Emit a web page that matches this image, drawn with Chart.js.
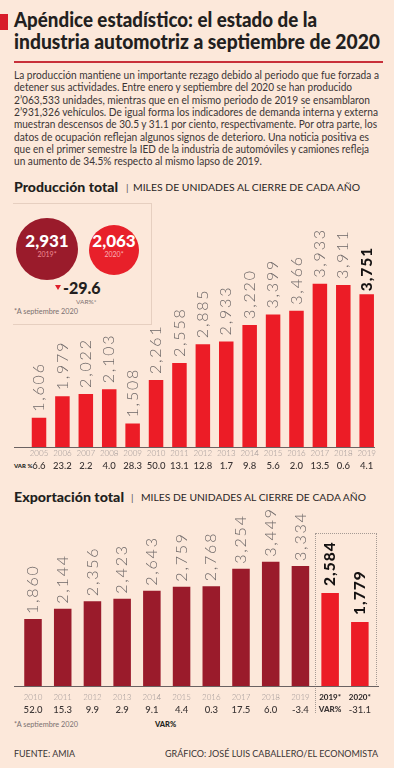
<!DOCTYPE html>
<html lang="es">
<head>
<meta charset="utf-8">
<script src="https://cdn.jsdelivr.net/npm/chart.js@4.4.1/dist/chart.umd.min.js"></script>
<style>
  html,body{margin:0;padding:0;}
  body{width:394px;height:768px;background:#fce8da;position:relative;overflow:hidden;font-family:Lato,"Open Sans",sans-serif;color:#2a2626;}
  .abs{position:absolute;}
  .fit{display:inline-block;white-space:nowrap;transform-origin:0 50%;}
  #title{left:14px;top:8px;font-weight:900;font-size:20px;line-height:22px;color:#231f20;}
  #title div{height:22px;}
  #para{left:14px;top:69px;font-size:10.6px;line-height:12.35px;color:#3b3535;}
  #para div{height:12.35px;}
  .sect{font-size:10px;color:#2a2626;}
  .sect b{font-weight:900;font-size:13.5px;color:#231f20;}
  .small{font-size:7.3px;color:#7a7070;}
  .circle{border-radius:50%;text-align:center;color:#fff;}
  .foot{font-size:9.6px;color:#3a3434;}
</style>
</head>
<body>
<div class="abs" style="left:0;top:14px;width:8px;height:16px;background:#d81d2a"></div>
<div id="title" class="abs">
  <div><span class="fit" data-w="303">Apéndice estadístico: el estado de la</span></div>
  <div><span class="fit" data-w="366">industria automotriz a septiembre de 2020</span></div>
</div>
<div class="abs" style="left:14px;top:61px;width:369px;height:1.5px;background:#c8303a"></div>
<div id="para" class="abs">
  <div><span class="fit" data-w="365">La producción mantiene un importante rezago debido al periodo que fue forzada a</span></div>
  <div><span class="fit" data-w="338">detener sus actividades. Entre enero y septiembre del 2020 se han producido</span></div>
  <div><span class="fit" data-w="356">2’063,533 unidades, mientras que en el mismo periodo de 2019 se ensamblaron</span></div>
  <div><span class="fit" data-w="364">2’931,326 vehículos. De igual forma los indicadores de demanda interna y externa</span></div>
  <div><span class="fit" data-w="363">muestran descensos de 30.5 y 31.1 por ciento, respectivamente. Por otra parte, los</span></div>
  <div><span class="fit" data-w="355">datos de ocupación reflejan algunos signos de deterioro. Una noticia positiva es</span></div>
  <div><span class="fit" data-w="355">que en el primer semestre la IED de la industria de automóviles y camiones refleja</span></div>
  <div><span class="fit" data-w="248">un aumento de 34.5% respecto al mismo lapso de 2019.</span></div>
</div>

<!-- Producción header -->
<div class="abs sect" style="left:14px;top:178px;height:18px;line-height:18px;">
  <b class="fit" data-w="104">Producción total</b>
</div>
<div class="abs sect" style="left:126px;top:178px;height:18px;line-height:18px;color:#555">|</div>
<div class="abs sect" style="left:133px;top:178px;height:18px;line-height:18px;"><span class="fit" data-w="227">MILES DE UNIDADES AL CIERRE DE CADA AÑO</span></div>

<!-- summary box -->
<div class="abs" style="left:13px;top:203px;width:138px;height:120px;border-top:1px solid #e6cfc0;border-right:1px solid #e6cfc0;border-bottom:1px solid #e6cfc0;"></div>
<div class="abs circle" style="left:16px;top:218px;width:62px;height:62px;background:#9a1b2b;"></div>
<div class="abs circle" style="left:89px;top:225px;width:50px;height:50px;background:#e8202a;"></div>
<div class="abs" style="left:16px;top:231px;width:62px;text-align:center;color:#fff;font-weight:900;font-size:17px;line-height:19px;">2,931</div>
<div class="abs" style="left:16px;top:250px;width:62px;text-align:center;color:#f08d93;font-size:7px;line-height:9px;">2019*</div>
<div class="abs" style="left:89px;top:231px;width:50px;text-align:center;color:#fff;font-weight:900;font-size:17px;line-height:19px;">2,063</div>
<div class="abs" style="left:89px;top:250px;width:50px;text-align:center;color:#f9b2b5;font-size:7px;line-height:9px;">2020*</div>
<div class="abs" style="left:55px;top:285px;width:0;height:0;border-left:3.5px solid transparent;border-right:3.5px solid transparent;border-top:5px solid #e01f2b;"></div>
<div class="abs" style="left:63px;top:279px;font-weight:900;font-size:16px;line-height:18px;color:#231f20;">-29.6</div>
<div class="abs small" style="left:76px;top:297px;font-size:6.5px;line-height:9px;">VAR%*</div>
<div class="abs small" style="left:14px;top:307px;line-height:9px;">*A septiembre 2020</div>

<!-- Production chart -->
<div class="abs" style="left:14px;top:446.5px;width:361px;height:1px;background:#6a6262;z-index:2"></div>
<div class="abs" style="left:14px;top:461px;font-size:6px;font-weight:900;line-height:9px;color:#231f20;">VAR %</div>
<canvas id="c1" class="abs" width="394" height="275" style="left:0;top:200px;width:394px;height:275px;"></canvas>

<!-- Export header -->
<div class="abs sect" style="left:14px;top:488px;height:18px;line-height:18px;">
  <b class="fit" data-w="110">Exportación total</b>
</div>
<div class="abs sect" style="left:131px;top:488px;height:18px;line-height:18px;color:#555">|</div>
<div class="abs sect" style="left:141px;top:488px;height:18px;line-height:18px;"><span class="fit" data-w="225">MILES DE UNIDADES AL CIERRE DE CADA AÑO</span></div>

<!-- dotted box for 2019*/2020* -->
<div class="abs" style="left:315px;top:533px;width:60px;height:153px;border-top:1px dotted #a59a94;border-right:1px dotted #a59a94;border-left:1px dotted #a59a94;"></div>
<div class="abs" style="left:315px;top:686px;width:0;height:27px;border-left:1px dotted #a59a94;"></div>
<div class="abs" style="left:14px;top:685.5px;width:365px;height:1px;background:#6a6262;z-index:2"></div>
<canvas id="c2" class="abs" width="394" height="218" style="left:0;top:500px;width:394px;height:218px;"></canvas>
<div class="abs small" style="left:14px;top:720px;line-height:9px;">*A septiembre 2020</div>
<div class="abs" style="left:155px;top:720px;font-size:7.5px;font-weight:900;line-height:9px;color:#231f20;">VAR%</div>

<div class="abs foot" style="left:14px;top:748px;line-height:12px;"><span class="fit" data-w="61">FUENTE: AMIA</span></div>
<div class="abs foot" style="left:165px;top:748px;line-height:12px;"><span class="fit" data-w="213">GRÁFICO: JOSÉ LUIS CABALLERO/EL ECONOMISTA</span></div>

<script>
// ---------- DATA ----------
const prodYears = ['2005','2006','2007','2008','2009','2010','2011','2012','2013','2014','2015','2016','2017','2018','2019'];
const prodValues = [1606,1979,2022,2103,1508,2261,2558,2885,2933,3220,3399,3466,3933,3911,3751];
const prodVar = ['6.6','23.2','2.2','4.0','28.3','50.0','13.1','12.8','1.7','9.8','5.6','2.0','13.5','0.6','4.1'];

const expYears = ['2010','2011','2012','2013','2014','2015','2016','2017','2018','2019','2019*','2020*'];
const expValues = [1860,2144,2356,2423,2643,2759,2768,3254,3449,3334,2584,1779];
const expVar = ['52.0','15.3','9.9','2.9','9.1','4.4','0.3','17.5','6.0','-3.4','VAR%','-31.1'];

// ---------- text fitting ----------
function fitAll(){
  document.querySelectorAll('.fit').forEach(el=>{
    const w = el.getBoundingClientRect().width;
    const t = parseFloat(el.dataset.w);
    if (w>0) el.style.transform = 'scaleX(' + (t/w) + ')';
  });
}

// ---------- value label plugin ----------
const valueLabels = {
  id: 'valueLabels',
  afterDatasetsDraw(chart, args, opts){
    const ctx = chart.ctx;
    const meta = chart.getDatasetMeta(0);
    const data = chart.data.datasets[0].data;
    meta.data.forEach((bar, i) => {
      const bold = opts.bold.includes(i);
      ctx.save();
      ctx.translate(bar.x, bar.y - (bold ? opts.gapBold : opts.gap));
      ctx.rotate(-Math.PI/2);
      ctx.font = bold ? opts.boldFont : opts.font;
      ctx.fillStyle = bold ? '#151212' : '#6e6868';
      try { ctx.letterSpacing = bold ? '1px' : '1.8px'; } catch(e){}
      ctx.textAlign = 'left';
      ctx.textBaseline = 'middle';
      ctx.fillText(data[i].toLocaleString('en-US'), 0, 0);
      ctx.restore();
    });
  }
};

function fixedHeight(h){ return s => { s.height = h; }; }
const noGrid = { display: false, drawTicks: false };

function build(){
  fitAll();
  Chart.defaults.font.family = 'Lato, "Open Sans", sans-serif';

  new Chart(document.getElementById('c1'), {
    type: 'bar',
    data: { labels: prodYears, datasets: [{ data: prodValues, backgroundColor: '#ec1c26', barPercentage: 0.62, categoryPercentage: 1 }] },
    options: {
      responsive: false, animation: false, events: [],
      layout: { padding: { left: 27.3, right: 15.6, top: 0, bottom: 0 } },
      plugins: { legend: { display: false }, tooltip: { enabled: false },
        valueLabels: { bold: [14], gap: 6, gapBold: 3, font: '300 16px Lato', boldFont: '900 15.5px Lato' } },
      scales: {
        x: { weight: 1, grid: noGrid, border: { display: false },
             ticks: { color: '#9c9494', font: { size: 8, weight: 300 }, padding: 1.5, maxRotation: 0, autoSkip: false },
             afterFit: fixedHeight(12) },
        x2: { weight: 2, type: 'category', labels: prodVar, position: 'bottom', offset: true,
              grid: noGrid, border: { display: false },
              ticks: { color: '#3a3434', font: { size: 9.5, weight: 500 }, padding: 1, maxRotation: 0, autoSkip: false },
              afterFit: fixedHeight(16) },
        y: { display: false, min: 1100, max: 5388 }
      }
    },
    plugins: [valueLabels]
  });

  new Chart(document.getElementById('c2'), {
    type: 'bar',
    data: { labels: expYears, datasets: [{ data: expValues,
      backgroundColor: ctx => (expYears[ctx.dataIndex] || '').includes('*') ? '#ec1c26' : '#9a1b2b',
      barPercentage: 0.59, categoryPercentage: 1 }] },
    options: {
      responsive: false, animation: false, events: [],
      layout: { padding: { left: 18.15, right: 19.3, top: 15, bottom: 0 } },
      plugins: { legend: { display: false }, tooltip: { enabled: false },
        valueLabels: { bold: [10, 11], gap: 5, gapBold: 7, font: '300 16px Lato', boldFont: '900 15.5px Lato' } },
      scales: {
        x: { weight: 1, grid: noGrid, border: { display: false },
             ticks: { color: c => (expYears[c.index] || '').includes('*') ? '#231f20' : '#9c9494',
                      font: c => ({ size: 8, weight: (expYears[c.index] || '').includes('*') ? 700 : 300 }),
                      padding: 7, maxRotation: 0, autoSkip: false },
             afterFit: fixedHeight(16) },
        x2: { weight: 2, type: 'category', labels: expVar, position: 'bottom', offset: true,
              grid: noGrid, border: { display: false },
              ticks: { color: '#3a3434',
                       font: c => ({ size: (expVar[c.index] === 'VAR%' ? 8 : 9.5), weight: (expVar[c.index] === 'VAR%' ? 900 : 500) }),
                       padding: 2.5, maxRotation: 0, autoSkip: false },
              afterFit: fixedHeight(16) },
        y: { display: false, min: 0, max: 4750 }
      }
    },
    plugins: [valueLabels]
  });
}

if (document.fonts && document.fonts.load) {
  Promise.all([
    document.fonts.load('300 15px Lato'), document.fonts.load('900 15px Lato'),
    document.fonts.load('400 11px Lato'), document.fonts.load('500 9px Lato'), document.fonts.load('700 8px Lato')
  ]).then(build, build);
} else { build(); }
</script>
</body>
</html>
